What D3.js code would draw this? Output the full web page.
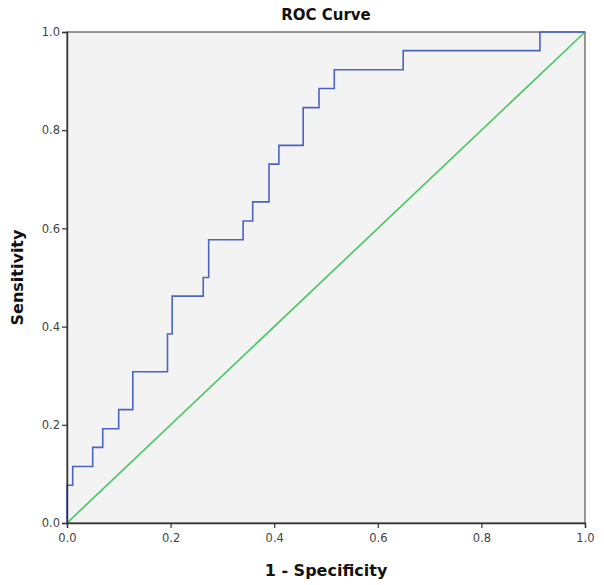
<!DOCTYPE html>
<html>
<head>
<meta charset="utf-8">
<script src="https://cdn.jsdelivr.net/npm/d3@7"></script>
<style>
html,body{margin:0;padding:0;background:#fff;}
svg{display:block;}
text{font-family:"DejaVu Sans",sans-serif;}
</style>
</head>
<body>
<svg id="chart" width="604" height="585"></svg>
<script>
// 1 - Specificity (x) and Sensitivity (y) of ROC step points
const fpr = [0, 0, 0.011, 0.011, 0.0496, 0.0496, 0.069, 0.069, 0.0998, 0.0998, 0.127, 0.127,
  0.194, 0.194, 0.203, 0.203, 0.263, 0.263, 0.2735, 0.2735, 0.340, 0.340, 0.3585, 0.3585,
  0.390, 0.390, 0.409, 0.409, 0.456, 0.456, 0.4865, 0.4865, 0.516, 0.516, 0.649, 0.649,
  0.913, 0.913, 1.0];
const tpr = [0, 0.077, 0.077, 0.115, 0.115, 0.154, 0.154, 0.192, 0.192, 0.231, 0.231, 0.308,
  0.308, 0.385, 0.385, 0.462, 0.462, 0.500, 0.500, 0.577, 0.577, 0.615, 0.615, 0.654,
  0.654, 0.731, 0.731, 0.769, 0.769, 0.846, 0.846, 0.885, 0.885, 0.923, 0.923, 0.962,
  0.962, 1.0, 1.0];
const refX = [0, 1];
const refY = [0, 1];
const tickVals = [0, 0.2, 0.4, 0.6, 0.8, 1.0];

const svg = d3.select("#chart");
const L = 67, R = 585, T = 32, B = 523;
const x = d3.scaleLinear().domain([0, 1]).range([L, R]);
const y = d3.scaleLinear().domain([0, 1]).range([B, T]);

svg.append("rect").attr("x", L).attr("y", T).attr("width", R - L).attr("height", B - T)
  .attr("fill", "#f3f3f3").attr("stroke", "#555").attr("stroke-width", 1.2);

const line = d3.line().x(d => x(d[0])).y(d => y(d[1]));

svg.append("path").datum(refX.map((v, i) => [v, refY[i]]))
  .attr("d", line).attr("fill", "none").attr("stroke", "#4cc864").attr("stroke-width", 1.7);

svg.append("path").datum(fpr.map((v, i) => [v, tpr[i]]))
  .attr("d", line).attr("fill", "none").attr("stroke", "#4a64c2").attr("stroke-width", 1.6);

const xAxis = svg.append("g").attr("transform", `translate(0,${B})`)
  .call(d3.axisBottom(x).tickValues(tickVals).tickFormat(d3.format(".1f")).tickSize(5).tickPadding(6));
const yAxis = svg.append("g").attr("transform", `translate(${L},0)`)
  .call(d3.axisLeft(y).tickValues(tickVals).tickFormat(d3.format(".1f")).tickSize(5).tickPadding(2));
[xAxis, yAxis].forEach(a => {
  a.select(".domain").attr("stroke", "#333").attr("stroke-width", 1.4);
  a.selectAll(".tick line").attr("stroke", "#333").attr("stroke-width", 1.2);
  a.selectAll(".tick text").attr("fill", "#444").style("font-size", "11.5px")
    .style("font-family", "'DejaVu Sans',sans-serif");
});

svg.append("text").attr("x", (L + R) / 2).attr("y", 20).attr("text-anchor", "middle")
  .style("font-size", "15px").style("font-weight", "bold").attr("fill", "#111").text("ROC Curve");
svg.append("text").attr("x", (L + R) / 2).attr("y", 576).attr("text-anchor", "middle")
  .style("font-size", "16px").style("font-weight", "bold").attr("fill", "#111").text("1 - Specificity");
svg.append("text").attr("transform", `translate(23,${(T + B) / 2}) rotate(-90)`)
  .attr("text-anchor", "middle")
  .style("font-size", "16px").style("font-weight", "bold").attr("fill", "#111").text("Sensitivity");
</script>
</body>
</html>
